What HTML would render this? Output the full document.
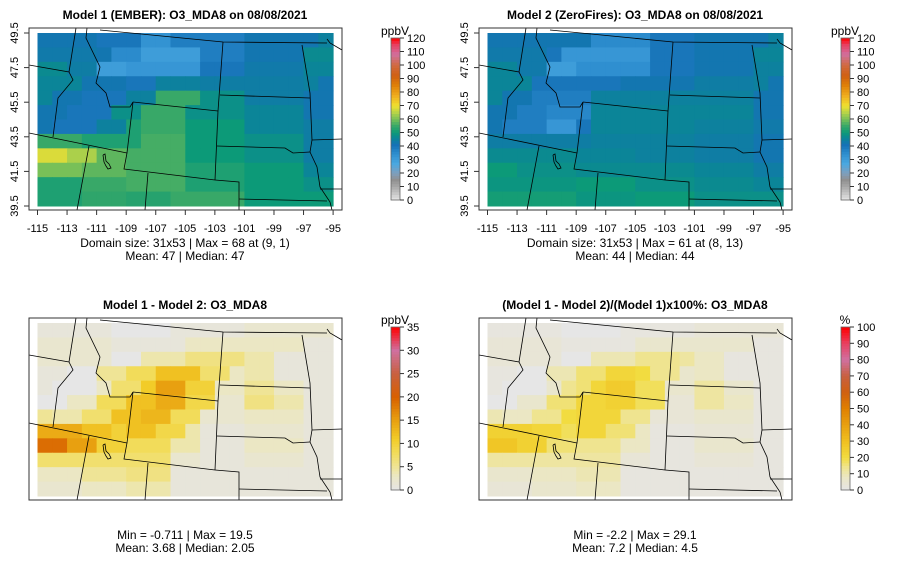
<!DOCTYPE html>
<html><head><meta charset="utf-8"><style>
body{margin:0;background:#fff}
svg{display:block;font-family:"Liberation Sans",sans-serif}
</style></head><body>
<svg id="chart" width="900" height="579" viewBox="0 0 900 579" xmlns="http://www.w3.org/2000/svg"></svg>
<script>
const lonTicks=[-115,-113,-111,-109,-107,-105,-103,-101,-99,-97,-95];
const latTicks=[39.5,41.5,43.5,45.5,47.5,49.5];
const m1=[
[42,42,42,42,40,40,40,33,33,38,38,38,38,38,42,42,42,42,42,45],
[43,43,43,43,42,35,35,30,30,30,30,38,38,38,42,42,42,42,47,47],
[47,47,44,44,30,30,32,32,32,32,32,40,40,40,43,43,43,43,46,46],
[46,46,46,42,42,42,40,40,45,45,45,44,44,44,44,44,44,44,45,42],
[46,42,42,40,40,40,45,45,55,55,55,48,48,48,44,44,44,44,42,42],
[42,42,40,40,40,48,48,55,55,55,48,48,48,48,46,46,46,46,42,42],
[42,40,40,40,45,45,52,55,55,55,50,50,50,50,46,46,46,46,44,44],
[55,55,55,52,52,52,52,56,56,56,50,50,50,50,48,48,48,48,44,44],
[68,68,64,64,58,58,56,56,56,56,50,50,50,50,48,48,48,48,44,44],
[60,60,60,58,58,58,56,56,56,56,52,52,52,52,50,50,50,50,46,46],
[52,52,52,55,55,55,56,56,56,56,52,52,52,52,50,50,50,50,48,48],
[52,52,52,54,54,54,53,53,53,55,55,55,55,55,50,50,50,50,50,50]];
const m2=[
[42,42,42,42,42,42,42,35,35,35,35,40,40,40,42,42,42,42,42,45],
[43,43,43,43,40,32,32,32,32,32,32,40,40,40,42,42,42,42,46,46],
[46,46,43,43,30,30,34,34,34,34,34,40,40,40,42,42,42,42,45,45],
[46,46,46,40,40,40,40,40,40,42,42,42,42,42,44,44,44,44,45,42],
[46,42,42,38,38,38,38,45,45,45,45,45,45,45,45,45,45,45,42,42],
[42,42,38,38,36,36,36,46,46,46,46,46,46,46,46,46,46,46,42,42],
[42,38,38,38,32,32,40,46,46,46,46,46,46,46,45,45,45,45,43,43],
[44,44,44,44,44,44,44,45,45,45,45,45,45,45,44,44,44,44,42,42],
[47,47,47,47,47,47,46,46,46,46,45,45,45,45,44,44,44,44,42,42],
[50,50,48,48,48,48,47,47,47,47,47,47,47,47,46,46,46,46,44,44],
[49,49,49,49,49,49,50,50,50,50,48,48,48,48,47,47,47,47,46,46],
[51,51,51,51,51,51,49,49,49,49,50,50,50,50,48,48,48,48,48,48]];
const diff=[
[1,1,1,1,1,0,0,0,0,1,1,1,1,1,2,2,2,2,2,2],
[2,2,2,2,2,1,1,1,1,1,3,3,3,3,3,3,3,3,1,1],
[2,2,2,2,2,0,0,4,4,4,6,6,6,6,4,4,1,1,1,1],
[1,1,0,0,5,5,8,8,12,12,12,7,7,3,4,4,1,1,1,1],
[1,0,0,0,3,7,7,11,15,15,10,10,3,3,5,5,3,3,1,1],
[0,0,3,3,8,8,12,12,14,14,9,9,2,2,6,6,4,4,1,1],
[5,4,4,7,7,12,12,13,13,8,8,2,2,2,3,3,3,3,1,1],
[14,14,14,12,12,10,12,12,9,9,4,1,1,1,2,2,2,2,1,1],
[19,19,15,15,10,10,8,8,8,4,4,1,1,1,3,3,3,3,1,1],
[7,7,7,7,7,7,7,7,7,2,2,1,1,1,2,2,2,2,1,1],
[3,3,3,5,5,5,6,6,6,1,1,1,1,1,1,1,1,1,1,1],
[2,2,2,3,3,3,4,4,4,1,1,1,1,1,1,1,1,1,1,1]];
const pct=[
[2,2,2,2,2,0,0,0,0,2,2,2,2,2,4,4,4,4,4,4],
[4,4,4,4,4,2,2,2,2,2,6,6,6,6,6,6,6,6,2,2],
[4,4,4,4,4,0,0,10,10,10,14,14,14,12,8,8,2,2,2,2],
[2,2,0,0,10,10,16,16,22,22,20,14,14,6,8,8,2,2,2,2],
[2,0,0,0,6,14,16,22,26,26,18,18,6,6,12,12,6,6,2,2],
[0,0,6,6,16,16,22,22,24,24,18,18,4,4,12,12,8,8,2,2],
[10,8,8,14,14,20,22,22,22,14,14,4,4,4,6,6,6,6,2,2],
[24,24,24,22,22,18,22,22,16,16,8,2,2,2,4,4,4,4,2,2],
[28,28,24,24,16,16,14,14,14,8,8,2,2,2,6,6,6,6,2,2],
[12,12,12,12,12,12,12,12,12,4,4,2,2,2,4,4,4,4,2,2],
[6,6,6,8,8,8,10,10,10,2,2,2,2,2,2,2,2,2,2,2],
[4,4,4,6,6,6,8,8,8,2,2,2,2,2,2,2,2,2,2,2]];
const ppbTicks=[0,10,20,30,40,50,60,70,80,90,100,110,120];
const diffTicks=[0,5,10,15,20,25,30,35];
const pctTicks=[0,10,20,30,40,50,60,70,80,90,100];

const cmO3=[[0,'#e6e6e6'],[10,'#a8a8a8'],[15,'#909090'],[20,'#7f9fbd'],[27,'#4aa8e0'],[34,'#2f8fd0'],[41,'#1572b6'],[46,'#0b8598'],[50,'#0c9a78'],[55,'#38a868'],[60,'#78c058'],[65,'#b8d448'],[70,'#f0e030'],[77,'#f0b020'],[85,'#e08008'],[92,'#d06010'],[100,'#d06a40'],[108,'#d070a0'],[115,'#e84060'],[120,'#ff0000']];
const cmDiff=[[0,'#e6e6e6'],[1,'#e7e5da'],[3,'#ebe7c4'],[5,'#efe496'],[8,'#f2dc5a'],[11,'#f2cc28'],[15,'#e8a010'],[20,'#d86000'],[25,'#c86040'],[30,'#d070a0'],[35,'#ff0000']];
const cmPct=[[0,'#e6e6e6'],[3,'#e7e5da'],[8,'#ebe7c4'],[14,'#efe490'],[20,'#f2dc40'],[30,'#f0c020'],[40,'#e8a010'],[50,'#e08000'],[60,'#d06010'],[70,'#c86040'],[80,'#d070a0'],[90,'#e84060'],[100,'#ff0000']];

const NS='http://www.w3.org/2000/svg';
const svg=document.getElementById('chart');
function mk(tag,attrs,parent){const e=document.createElementNS(NS,tag);for(const k in attrs)e.setAttribute(k,attrs[k]);(parent||svg).appendChild(e);return e;}
function hex(c){return [1,3,5].map(i=>parseInt(c.substr(i,2),16));}
function cmap(cm,v){if(v<=cm[0][0])return cm[0][1];for(let i=1;i<cm.length;i++){if(v<=cm[i][0]){const t=(v-cm[i-1][0])/(cm[i][0]-cm[i-1][0]);const a=hex(cm[i-1][1]),b=hex(cm[i][1]);return 'rgb('+a.map((x,j)=>Math.round(x+(b[j]-x)*t)).join(',')+')';}}return cm[cm.length-1][1];}
const xLon=lon=>37.5+(lon+115)*14.78;
const yLat=lat=>33+(49.5-lat)*17.3;

const borders=[
[[76,28],[69,72]],
[[29,65],[69,72],[73,80],[58,98],[53,137]],
[[29,133],[127,153]],
[[89,146],[77,210]],
[[87,28],[86,38],[100,67],[96,83],[106,93],[110,107],[130,107],[133,102]],
[[133,102],[218,111]],
[[133,102],[127,153],[124,169],[215,180]],
[[223,42],[218,111],[215,180]],
[[148,173],[145,210]],
[[215,180],[239,182],[239,210]],
[[239,199],[327,201]],
[[100,30],[223,42],[327,43]],
[[327,39],[330,43],[342,50]],
[[302,45],[305,63],[310,93],[312,140],[310,152]],
[[220,95],[310,98]],
[[217,146],[285,148],[293,153],[310,152]],
[[312,140],[342,139]],
[[310,152],[317,167],[320,187],[330,202],[332,210]],
[[320,189],[342,189]],
[[103,155],[105,154],[106,161],[109,164],[111,168],[108,169],[106,166],[104,162],[103,155]]
];

function panel(ox,oy,data,cm,title,name,axes,stats,barTop,barBot,ticks,tmax,unit){
  const g=mk('g',{transform:'translate('+ox+','+oy+')'});
  
  
  const t=mk('text',{x:185,y:19,'text-anchor':'middle','font-size':12,'font-weight':'bold'},g);t.textContent=title;
  
  
  const rows=data.length,cols=data[0].length;
  const dLat=10/rows;
  for(let r=0;r<rows;r++)for(let c=0;c<cols;c++){
    const x0=xLon(-115+c),x1=xLon(-114+c),y0=yLat(49.5-r*dLat),y1=yLat(49.5-(r+1)*dLat);
    const cell=mk('rect',{x:x0,y:y0,width:x1-x0+0.5,height:y1-y0+0.5,fill:cmap(cm,data[r][c])},g);
    
    
  }
  borders.forEach(b=>{const p=mk('polyline',{points:b.map(q=>q.join(',')).join(' '),fill:'none',stroke:'#000','stroke-width':0.8},g);
    
    });
  const box=mk('rect',{x:29,y:28,width:313,height:182,fill:'none',stroke:'#333','stroke-width':1},g);
  
  
  if(axes){
    lonTicks.forEach(l=>{const x=xLon(l);mk('line',{x1:x,x2:x,y1:210,y2:215,stroke:'#333'},g);
      const tx=mk('text',{x:x,y:232,'text-anchor':'middle','font-size':11},g);tx.textContent=l;
      
      });
    latTicks.forEach(l=>{const y=yLat(l);mk('line',{x1:24,x2:29,y1:y,y2:y,stroke:'#333'},g);
      const tx=mk('text',{x:0,y:0,'text-anchor':'middle','font-size':11,transform:'translate(18,'+y+') rotate(-90)'},g);tx.textContent=l.toFixed(1);
      
      });
  }
  stats.forEach((s,i)=>{const tx=mk('text',{x:185,y:(axes?247:249)+i*13,'text-anchor':'middle','font-size':12},g);tx.textContent=s;
    
    });
  const by=v=>barBot-(v/tmax)*(barBot-barTop);
  const N=60;
  for(let i=0;i<N;i++){const v0=tmax*i/N,v1=tmax*(i+1)/N;
    const s=mk('rect',{x:391,y:by(v1),width:9,height:by(v0)-by(v1)+0.4,fill:cmap(cm,(v0+v1)/2)},g);
    
    }
  mk('rect',{x:391,y:barTop,width:9,height:barBot-barTop,fill:'none',stroke:'#666','stroke-width':0.8},g);
  ticks.forEach(v=>{const y=by(v);mk('line',{x1:400,x2:404,y1:y,y2:y,stroke:'#333'},g);
    const tx=mk('text',{x:407,y:y+4,'font-size':11},g);tx.textContent=v;
    
    });
  const u=mk('text',{x:395,y:barTop-3,'text-anchor':'middle','font-size':12},g);u.textContent=unit;
  
  
}
panel(0,0,m1,cmO3,'Model 1 (EMBER): O3_MDA8 on 08/08/2021','panel-model1',true,['Domain size: 31x53 | Max = 68 at (9, 1)','Mean: 47 |  Median: 47'],38,200,ppbTicks,120,'ppbV');
panel(450,0,m2,cmO3,'Model 2 (ZeroFires): O3_MDA8 on 08/08/2021','panel-model2',true,['Domain size: 31x53 | Max = 61 at (8, 13)','Mean: 44 |  Median: 44'],38,200,ppbTicks,120,'ppbV');
panel(0,290,diff,cmDiff,'Model 1 - Model 2: O3_MDA8','panel-difference',false,['Min = -0.711 | Max = 19.5','Mean: 3.68 |  Median: 2.05'],37,200,diffTicks,35,'ppbV');
panel(450,290,pct,cmPct,'(Model 1 - Model 2)/(Model 1)x100%: O3_MDA8','panel-percent',false,['Min = -2.2 | Max = 29.1','Mean: 7.2 |  Median: 4.5'],37,200,pctTicks,100,'%');
</script>
</body></html>
